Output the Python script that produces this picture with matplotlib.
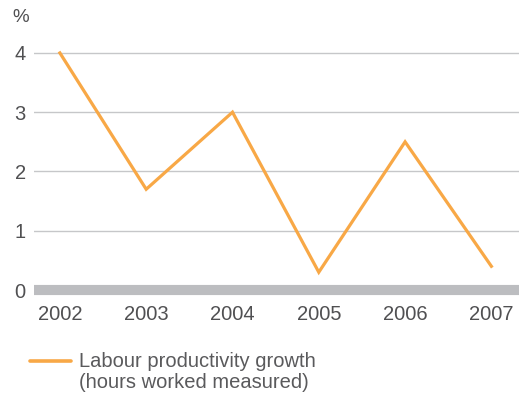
import matplotlib
matplotlib.use("Agg")
import matplotlib.pyplot as plt
from matplotlib.lines import Line2D

years = ["2002", "2003", "2004", "2005", "2006", "2007"]
growth = [4.0, 1.7, 3.0, 0.3, 2.5, 0.4]
y_ticks = [0, 1, 2, 3, 4]
series_label = "Labour productivity growth\n(hours worked measured)"

plt.rcParams["font.family"] = ["Liberation Sans", "DejaVu Sans"]
text_color = "#505052"
orange = "#f8a846"

fig = plt.figure(figsize=(5.23, 3.96), dpi=100)
# zero line at y=290 px, 59.3 px per unit
ax = fig.add_axes([34 / 523, 106 / 396, (519 - 34) / 523, 243 / 396])

x = list(range(len(years)))
for t in y_ticks[1:]:
    ax.axhline(t, color="#c6c7c9", linewidth=1.0, zorder=1)
ax.axhline(0, color="#bcbdc0", linewidth=7.3, zorder=1,
           solid_capstyle="butt", clip_on=False)
ax.plot(x, growth, color=orange, linewidth=2.3, zorder=3,
        solid_joinstyle="miter")

ax.set_xlim(-0.3, 5.32)
ax.set_ylim(0, 4.1)
ax.set_xticks(x)
ax.set_xticklabels(years)
ax.set_yticks(y_ticks)
ax.tick_params(length=0, labelsize=14.5, colors=text_color)
ax.tick_params(axis="x", pad=11)
ax.tick_params(axis="y", pad=6)
for s in ax.spines.values():
    s.set_visible(False)

fig.text(12 / 523, 1 - 17 / 396, "%", fontsize=13.5, color=text_color,
         ha="left", va="center")

# legend drawn by hand
fig.add_artist(Line2D([30 / 523, 71 / 523], [1 - 361 / 396, 1 - 361 / 396],
                      color=orange, linewidth=2.6, solid_capstyle="round"))
fig.text(79 / 523, 1 - 372 / 396, series_label, fontsize=14.5,
         color="#5a5a5c", ha="left", va="center", linespacing=1.1)

fig.savefig("out.png", dpi=100)
